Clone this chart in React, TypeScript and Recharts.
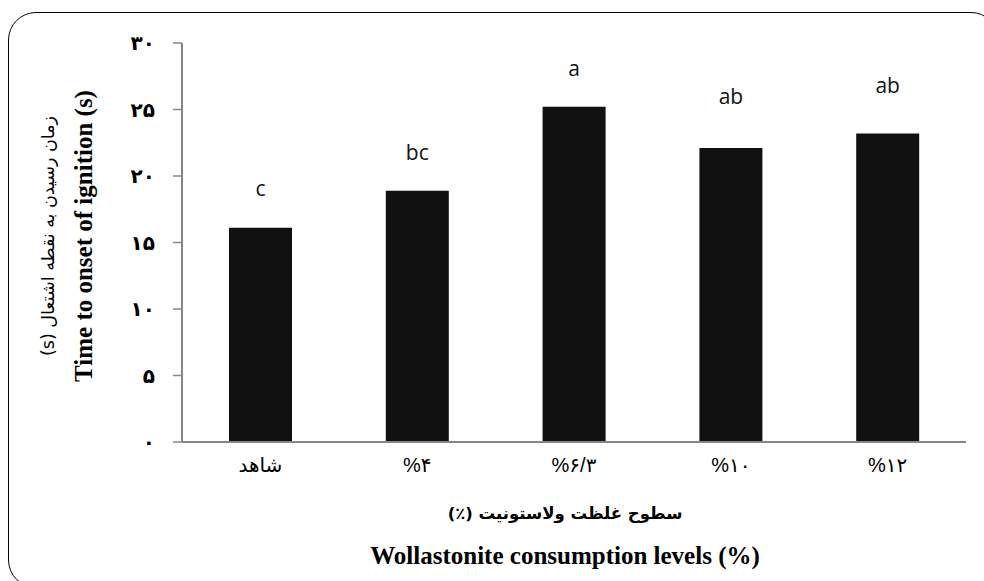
import React from 'react';
import { BarChart, Bar, XAxis, YAxis, LabelList, Label } from 'recharts';

const categories = ['شاهد', '%۴', '%۶/۳', '%۱۰', '%۱۲'];
const ignitionTime = [16.1, 18.9, 25.2, 22.1, 23.2];
const sdValues = [0.6, 0.5, 0.5, 1.5, 1.2];
const groupLetters = ['c', 'bc', 'a', 'ab', 'ab'];
const yTicks = [0, 5, 10, 15, 20, 25, 30];
const yTickLabels = ['۰', '۵', '۱۰', '۱۵', '۲۰', '۲۵', '۳۰'];

const yTitleFa = 'زمان رسیدن به نقطه اشتعال (s)';
const yTitleEn = 'Time to onset of ignition (s)';
const xTitleFa = 'سطوح غلظت ولاستونیت (٪)';
const xTitleEn = 'Wollastonite consumption levels (%)';

const data = categories.map((c, i) => ({
  name: c,
  value: ignitionTime[i],
  sd: sdValues[i],
  letter: groupLetters[i],
}));

const LetterLabel = (props: any) => {
  const { x, y, width, height, value, index } = props;
  const v = ignitionTime[index];
  const pxPerUnit = v ? height / v : 0;
  const ly = y - sdValues[index] * pxPerUnit - 24;
  return (
    <text
      x={x + width / 2}
      y={ly}
      textAnchor="middle"
      fontFamily="'Open Sans', sans-serif"
      fontSize={21}
      fill="#111"
    >
      {value}
    </text>
  );
};

const YTitles = () => {
  const cy = 236;
  return (
    <g>
      <text
        x={48}
        y={cy}
        transform={`rotate(-90, 48, ${cy})`}
        textAnchor="middle"
        dominantBaseline="central"
        fontFamily="'DejaVu Sans', sans-serif"
        fontSize={17.5}
        fill="#000"
        style={{ direction: 'rtl' }}
      >
        {yTitleFa}
      </text>
      <text
        x={83}
        y={cy}
        transform={`rotate(-90, 83, ${cy})`}
        textAnchor="middle"
        dominantBaseline="central"
        fontFamily="'Liberation Serif', serif"
        fontWeight="bold"
        fontSize={25}
        fill="#000"
      >
        {yTitleEn}
      </text>
    </g>
  );
};

const XTitles = () => {
  return (
    <g>
      <text
        x={565}
        y={519}
        textAnchor="middle"
        fontFamily="'DejaVu Sans', sans-serif"
        fontWeight="bold"
        fontSize={16.5}
        fill="#000"
        style={{ direction: 'rtl' }}
      >
        {xTitleFa}
      </text>
      <text
        x={565}
        y={564}
        textAnchor="middle"
        fontFamily="'Liberation Serif', serif"
        fontWeight="bold"
        fontSize={25}
        fill="#000"
      >
        {xTitleEn}
      </text>
    </g>
  );
};

export default function App() {
  return (
    <div
      style={{
        position: 'absolute',
        left: 0,
        top: 0,
        width: 984,
        height: 581,
        overflow: 'hidden',
        background: '#fff',
      }}
    >
      <div
        style={{
          position: 'absolute',
          left: 8,
          top: 12,
          width: 991,
          height: 576,
          border: '1.5px solid #000',
          borderRadius: 28,
          boxSizing: 'border-box',
        }}
      />
      <div style={{ position: 'absolute', left: 0, top: 0 }}>
        <BarChart
          width={984}
          height={581}
          data={data}
          margin={{ top: 43, right: 18, bottom: 109, left: 0 }}
          barSize={63}
        >
          <XAxis
            dataKey="name"
            height={30}
            axisLine={{ stroke: '#868686', strokeWidth: 2 }}
            tickLine={false}
            tickSize={6}
            tickMargin={10}
            tick={{ fill: '#000', fontSize: 20, fontFamily: "'Liberation Sans', 'DejaVu Sans', sans-serif" }}
            interval={0}
          >
            <Label content={<XTitles />} />
          </XAxis>
          <YAxis
            width={182}
            domain={[0, 30]}
            ticks={yTicks}
            interval={0}
            axisLine={{ stroke: '#868686', strokeWidth: 2 }}
            tickLine={{ stroke: '#868686', strokeWidth: 1.5 }}
            tickSize={9}
            tickMargin={18}
            tickFormatter={(v: number) => yTickLabels[yTicks.indexOf(v)]}
            tick={{ fill: '#000', fontSize: 20, fontWeight: 'bold', fontFamily: "'DejaVu Sans', sans-serif" }}
          >
            <Label content={<YTitles />} />
          </YAxis>
          <Bar dataKey="value" fill="#111" isAnimationActive={false}>
            <LabelList dataKey="letter" content={<LetterLabel />} />
          </Bar>
        </BarChart>
      </div>
    </div>
  );
}
